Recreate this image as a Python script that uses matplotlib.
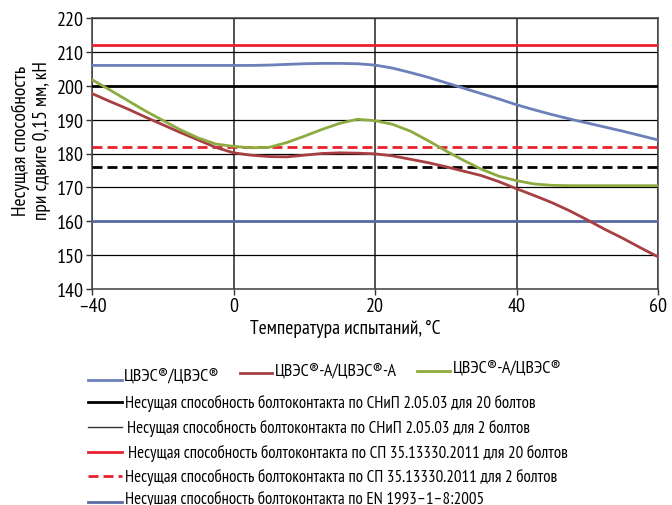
import numpy as np
import matplotlib
matplotlib.use("Agg")
import matplotlib.pyplot as plt
from matplotlib.lines import Line2D

plt.rcParams['font.family'] = ['PT Sans Narrow', 'Roboto Condensed', 'DejaVu Sans']

# temperature, °C
temps = [-40, -35, -30, -25, -20, -15, -10, -5, 0, 2.5, 5, 7.5, 10, 12.5, 15, 17.5,
         20, 22.5, 25, 27.5, 30, 32.5, 35, 37.5, 40, 42.5, 45, 47.5, 50, 52.5, 55, 57.5, 60]

# ЦВЭС®/ЦВЭС®
cves_cves = [206, 206, 206, 206, 206, 206, 206, 206, 206, 206.0, 206.1, 206.3, 206.5, 206.6,
             206.6, 206.5, 206.1, 205.2, 203.9, 202.5, 200.9, 199.3, 197.7, 196.1, 194.4,
             192.9, 191.5, 190.2, 189.0, 187.8, 186.6, 185.3, 184.0]
# ЦВЭС®-А/ЦВЭС®-А
cves_a_a = [197.7, 195.4, 193.2, 190.8, 188.5, 186.2, 184.0, 181.8, 180.2, 179.5, 179.1,
            179.0, 179.5, 180.0, 180.2, 180.1, 179.9, 179.3, 178.3, 177.3, 176.1, 174.8,
            173.5, 171.7, 169.6, 167.6, 165.5, 163.1, 160.4, 157.6, 155.0, 152.2, 149.5]
# ЦВЭС®-А/ЦВЭС®
cves_a_c = [201.8, 198.8, 195.7, 192.6, 189.8, 187.0, 184.6, 182.8, 182.1, 181.7, 181.8,
            183.2, 185.1, 187.1, 188.9, 190.1, 189.7, 188.6, 186.6, 183.8, 180.8, 178.0,
            175.4, 173.3, 172.0, 171.0, 170.6, 170.5, 170.5, 170.5, 170.5, 170.5, 170.5]

# normative capacities, kN
snip_20 = 200
snip_2 = 176
sp_20 = 212
sp_2 = 182
en_1993 = 160

x_ticks = [-40, 0, 20, 40, 60]
x_tick_labels = ['–40', '0', '20', '40', '60']
y_ticks = list(range(140, 221, 10))

labels = [
    'ЦВЭС®/ЦВЭС®',
    'ЦВЭС®-А/ЦВЭС®-А',
    'ЦВЭС®-А/ЦВЭС®',
    'Несущая способность болтоконтакта по СНиП 2.05.03 для 20 болтов',
    'Несущая способность болтоконтакта по СНиП 2.05.03 для 2 болтов',
    'Несущая способность болтоконтакта по СП 35.13330.2011 для 20 болтов',
    'Несущая способность болтоконтакта по СП 35.13330.2011 для 2 болтов',
    'Несушая способность болтоконтакта по EN 1993–1–8:2005',
]

BLUE = '#6b7fb8'
BROWN = '#a73f42'
GREEN = '#8cab40'
RED = '#e8202f'
SLATE = '#5a6aa3'

W, H = 672, 506
fig = plt.figure(figsize=(W / 100, H / 100), dpi=100)
ax = fig.add_axes([92 / W, 1 - 290 / H, (658 - 92) / W, (290 - 19) / H])


# category-like axis: -40..0 takes the same width as 0..20
def fwd(t):
    t = np.asarray(t, dtype=float)
    return np.where(t < 0, (t + 40) / 40, 1 + t / 20)


def inv(u):
    u = np.asarray(u, dtype=float)
    return np.where(u < 1, 40 * u - 40, 20 * (u - 1))


ax.set_xscale('function', functions=(fwd, inv))
ax.set_xlim(-40, 60)
ax.set_ylim(140, 220)

ax.axhline(sp_20, color=RED, lw=2.0, zorder=3)
ax.axhline(snip_20, color='black', lw=2.0, zorder=3)
ax.axhline(sp_2, color=RED, lw=2.0, dashes=(3.6, 1.8), zorder=3)
ax.axhline(snip_2, color='black', lw=2.0, dashes=(3.6, 1.8), zorder=3)
ax.axhline(en_1993, color=SLATE, lw=2.0, zorder=3)

ax.plot(temps, cves_cves, color=BLUE, lw=2.0, zorder=4)
ax.plot(temps, cves_a_a, color=BROWN, lw=2.0, zorder=4)
ax.plot(temps, cves_a_c, color=GREEN, lw=2.0, zorder=4)

ax.set_xticks(x_ticks)
ax.set_xticklabels(x_tick_labels)
ax.set_yticks(y_ticks)
ax.tick_params(labelsize=14.5, length=4, width=1, color='#333333', pad=2)
ax.grid(True, axis='y', color='black', lw=0.9, zorder=1)
ax.grid(True, axis='x', color='#333333', lw=1.2, zorder=1)
for s in ax.spines.values():
    s.set_color('#444444')
    s.set_linewidth(1.1)

fig.text(31 / W, 1 - 141 / H, 'Несущая способность\nпри сдвиге 0,15 мм, кН',
         rotation=90, ha='center', va='center', multialignment='center',
         fontsize=14, linespacing=1.2)
fig.text(345 / W, 1 - 329 / H, 'Температура испытаний, °C',
         ha='center', va='center', fontsize=14)

# legend, laid out as in the original
entries = [
    (88, 122, 381, 124, 378, 13, dict(color=BLUE, lw=2.0)),
    (240, 272, 374, 275, 373, 13, dict(color=BROWN, lw=2.0)),
    (417, 450, 372, 453, 369, 13, dict(color=GREEN, lw=2.0)),
    (88, 122, 403, 125, 403, 12.2, dict(color='black', lw=2.0)),
    (88, 122, 428, 127, 428, 12.2, dict(color='#333333', lw=1.0)),
    (88, 122, 453, 128, 453, 12.2, dict(color=RED, lw=2.0)),
    (88, 122, 477, 125, 477, 12.2, dict(color=RED, lw=2.0, dashes=(3.6, 1.8))),
    (88, 122, 503, 125, 499, 12.2, dict(color=SLATE, lw=2.0)),
]
for (x0, x1, yl, xt, yt, fs, style), label in zip(entries, labels):
    fig.add_artist(Line2D([x0 / W, x1 / W], [1 - yl / H, 1 - yl / H],
                          transform=fig.transFigure, **style))
    fig.text(xt / W, 1 - yt / H, label, ha='left', va='center', fontsize=fs)

fig.savefig('out.png', dpi=100)
